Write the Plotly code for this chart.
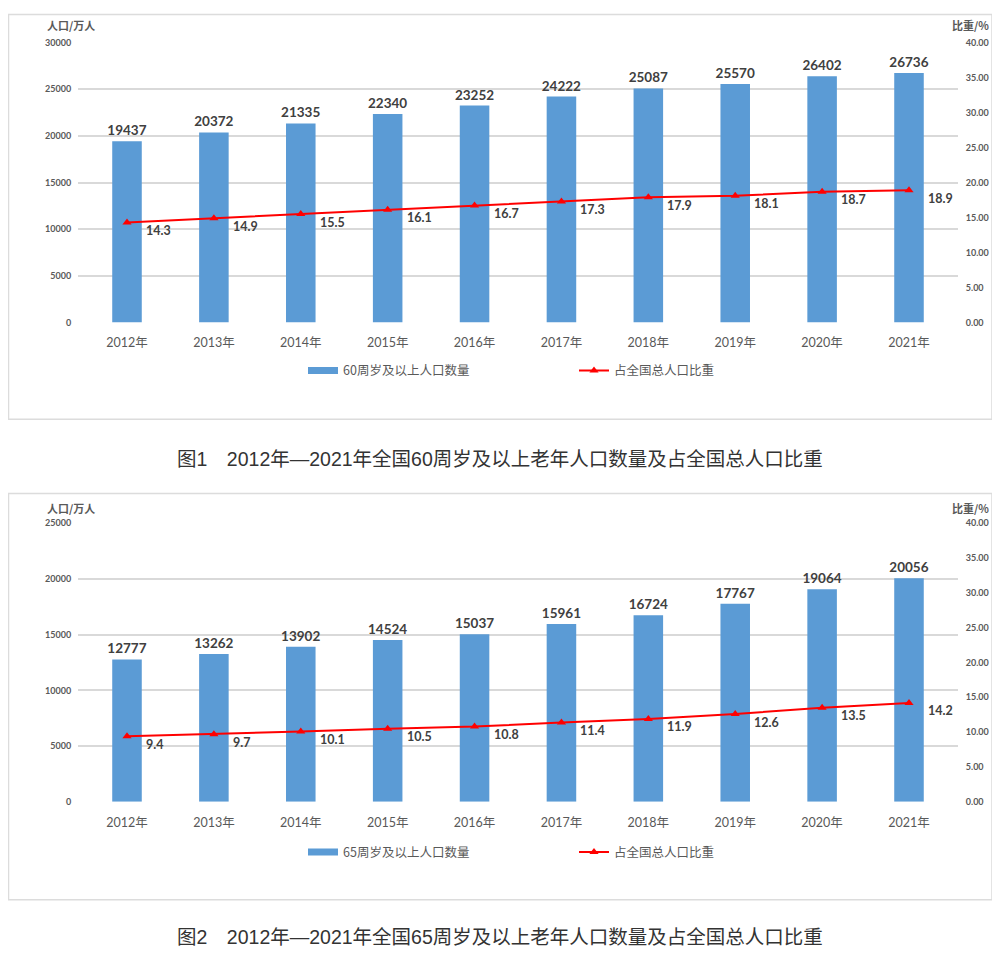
import plotly.graph_objects as go

years = ["2012年", "2013年", "2014年", "2015年", "2016年", "2017年", "2018年", "2019年", "2020年", "2021年"]
pop60 = [19437, 20372, 21335, 22340, 23252, 24222, 25087, 25570, 26402, 26736]
ratio60 = [14.3, 14.9, 15.5, 16.1, 16.7, 17.3, 17.9, 18.1, 18.7, 18.9]
pop65 = [12777, 13262, 13902, 14524, 15037, 15961, 16724, 17767, 19064, 20056]
ratio65 = [9.4, 9.7, 10.1, 10.5, 10.8, 11.4, 11.9, 12.6, 13.5, 14.2]

left_ticks1 = [0, 5000, 10000, 15000, 20000, 25000, 30000]
left_ticks2 = [0, 5000, 10000, 15000, 20000, 25000]
right_ticks = [0, 5, 10, 15, 20, 25, 30, 35, 40]

# page body has an 8px margin; figure sized so the page fits the 1000x974 window
OFF = 8
W, H = 1000 - 2 * OFF, 974 - 2 * OFF
BAR = "#5b9bd5"
RED = "#ff0000"
GRID = "#d9d9d9"
TICKC = "#595959"
LABC = "#404040"
FONT = "Lato, Noto Sans CJK SC, sans-serif"
CJK = "Noto Sans CJK SC, sans-serif"
CAPF = "Liberation Sans, Noto Sans CJK SC, sans-serif"


def px(pix):
    return max(pix - OFF, 0.5) / W


def py(pix):
    return (H - max(pix - OFF, 0.5)) / H


fig = go.Figure()

panels = [
    dict(pop=pop60, ratio=ratio60, name_bar="60周岁及以上人口数量",
         xa="x", ya="y", ya2="y2", legend="legend"),
    dict(pop=pop65, ratio=ratio65, name_bar="65周岁及以上人口数量",
         xa="x2", ya="y3", ya2="y4", legend="legend2"),
]

annotations = []
for p in panels:
    fig.add_trace(go.Bar(
        x=years, y=p["pop"], name=p["name_bar"], marker=dict(color=BAR, line=dict(width=0)),
        text=[str(v) for v in p["pop"]], textposition="outside", cliponaxis=False, constraintext="none",
        textfont=dict(family=FONT, size=13.5, color=LABC, weight="bold"),
        xaxis=p["xa"], yaxis=p["ya"], legend=p["legend"], width=0.34, showlegend=False,
    ))
    # legend entry for the bars (wide flat swatch like the original)
    fig.add_trace(go.Scatter(
        x=[None], y=[None], name=p["name_bar"], mode="lines", line=dict(color=BAR, width=7),
        xaxis=p["xa"], yaxis=p["ya"], legend=p["legend"], hoverinfo="skip",
    ))
    fig.add_trace(go.Scatter(
        x=years, y=p["ratio"], name="占全国总人口比重", mode="lines+markers",
        line=dict(color=RED, width=2), marker=dict(symbol="triangle-up", size=8, color=RED),
        xaxis=p["xa"], yaxis=p["ya2"], legend=p["legend"], cliponaxis=False,
    ))
    for yr, r in zip(years, p["ratio"]):
        annotations.append(dict(
            x=yr, y=r, xref=p["xa"], yref=p["ya2"], text=f"{r:.1f}", showarrow=False,
            xanchor="left", yanchor="middle", xshift=17, yshift=-8,
            font=dict(family=FONT, size=12.5, color=LABC, weight="bold"),
        ))

dom_x = [px(78), px(958)]
ax_common = dict(showline=False, zeroline=False)
xfont = dict(family=FONT, size=12.5, color=TICKC)
yfont = dict(family=FONT, size=9, color=TICKC, weight="bold")

fig.update_layout(
    xaxis=dict(domain=dom_x, anchor="y", type="category", showgrid=False, ticks="outside", ticklen=9,
               tickcolor="rgba(0,0,0,0)", tickfont=xfont, **ax_common),
    yaxis=dict(domain=[py(320), py(37)], anchor="x", range=[0, 30000], tickvals=left_ticks1,
               ticktext=[str(v) for v in left_ticks1], showgrid=True, gridcolor=GRID, gridwidth=1.5,
               ticks="outside", ticklen=4, tickcolor="rgba(0,0,0,0)", tickfont=yfont, **ax_common),
    yaxis2=dict(domain=[py(320), py(37)], anchor="x", overlaying="y", side="right", range=[0, 40],
                tickvals=right_ticks, ticktext=[f"{v:.2f}" for v in right_ticks], showgrid=False,
                ticks="outside", ticklen=5, tickcolor="rgba(0,0,0,0)", tickfont=yfont, **ax_common),
    xaxis2=dict(domain=dom_x, anchor="y3", type="category", showgrid=False, ticks="outside", ticklen=9,
                tickcolor="rgba(0,0,0,0)", tickfont=xfont, **ax_common),
    yaxis3=dict(domain=[py(805), py(523)], anchor="x2", range=[0, 25000], tickvals=left_ticks2,
                ticktext=[str(v) for v in left_ticks2], showgrid=True, gridcolor=GRID, gridwidth=1.5,
                ticks="outside", ticklen=4, tickcolor="rgba(0,0,0,0)", tickfont=yfont, **ax_common),
    yaxis4=dict(domain=[py(805), py(523)], anchor="x2", overlaying="y3", side="right", range=[0, 40],
                tickvals=right_ticks, ticktext=[f"{v:.2f}" for v in right_ticks], showgrid=False,
                ticks="outside", ticklen=5, tickcolor="rgba(0,0,0,0)", tickfont=yfont, **ax_common),
)

leg_common = dict(orientation="h", xanchor="left", yanchor="middle", entrywidth=226, entrywidthmode="pixels",
                  font=dict(family=CJK, size=12.5, color=TICKC), bgcolor="rgba(0,0,0,0)",
                  traceorder="normal")
fig.update_layout(
    legend=dict(x=px(303), y=py(369), **leg_common),
    legend2=dict(x=px(303), y=py(856), **leg_common),
)

# axis titles
for ytop in (19, 508):
    annotations.append(dict(x=px(45), y=py(ytop), xref="paper", yref="paper", text="人口/万人", showarrow=False,
                            xanchor="left", yanchor="middle",
                            font=dict(family=CJK, size=11, color=TICKC, weight="bold")))
    annotations.append(dict(x=px(950), y=py(ytop), xref="paper", yref="paper", text="比重/%", showarrow=False,
                            xanchor="left", yanchor="middle",
                            font=dict(family=CJK, size=11, color=TICKC, weight="bold")))

captions = ["图1　2012年—2021年全国60周岁及以上老年人口数量及占全国总人口比重",
            "图2　2012年—2021年全国65周岁及以上老年人口数量及占全国总人口比重"]
for cap, yc in zip(captions, (458, 942)):
    annotations.append(dict(x=px(500), y=py(yc), xref="paper", yref="paper", text=cap, showarrow=False,
                            xanchor="center", yanchor="middle",
                            font=dict(family=CAPF, size=19.5, color="#333333")))

shapes = []
for top, bot in ((7, 418), (493, 904)):
    shapes.append(dict(type="rect", xref="paper", yref="paper", x0=px(7), x1=px(992), y0=py(bot), y1=py(top),
                       line=dict(color="#dcdcdc", width=1.5), fillcolor="rgba(0,0,0,0)", layer="below"))

fig.update_layout(
    width=W, height=H, margin=dict(l=0, r=0, t=0, b=0),
    paper_bgcolor="white", plot_bgcolor="white",
    annotations=annotations, shapes=shapes, barmode="group", showlegend=True,
)

fig.write_html("out.html")
